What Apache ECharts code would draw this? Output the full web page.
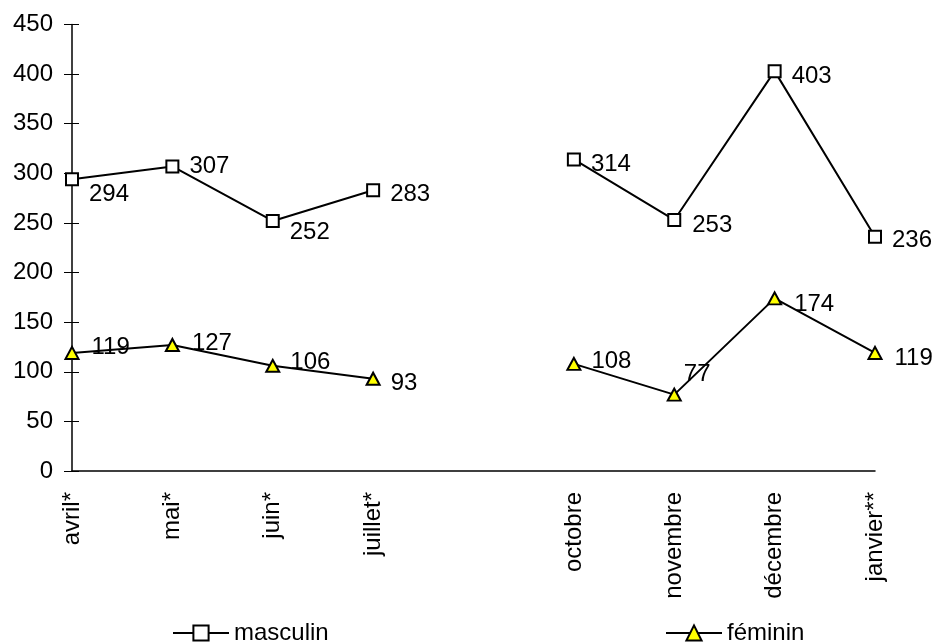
<!DOCTYPE html>
<html>
<head>
<meta charset="utf-8">
<script src="https://cdn.jsdelivr.net/npm/echarts@6/dist/echarts.min.js"></script>
<style>
  html, body { margin: 0; padding: 0; background: #ffffff; }
  #chart { width: 935px; height: 644px; }
</style>
</head>
<body>
<div id="chart"></div>
<script>
// ---- data ----
const categories = ['avril*', 'mai*', 'juin*', 'juillet*', '', 'octobre', 'novembre', 'décembre', 'janvier**'];
const masculin = [294, 307, 252, 283, null, 314, 253, 403, 236];
const feminin = [119, 127, 106, 93, null, 108, 77, 174, 119];
const yTicks = { min: 0, max: 450, interval: 50 };

// label nudges (layout only)
const mascLabelOffset = [[0, 15], [0, 0], [0, 11], [0, 4], null, [0, 5], [1, 5], [0, 5], [0, 4]];
const femLabelOffset = [[2, -6], [2, -2], [0, -3], [0, 5], null, [0, -2], [-8, -20], [2, 6], [2, 5]];

const FONT = 'Liberation Sans, Arial, sans-serif';
const FS = 24;

function withLabels(values, offsets) {
  return values.map((v, i) => {
    if (v === null) return null;
    return { value: v, label: { offset: offsets[i] || [0, 0] } };
  });
}

const legendCommon = {
  top: 621, padding: 0,
  itemWidth: 56, itemHeight: 19, itemGap: 0,
  textStyle: { fontFamily: FONT, fontSize: FS, color: '#000' },
  lineStyle: { width: 2, color: '#000' }
};

const chart = echarts.init(document.getElementById('chart'), null, { renderer: 'canvas' });
chart.setOption({
  animation: false,
  backgroundColor: '#ffffff',
  textStyle: { fontFamily: FONT, color: '#000' },
  grid: { left: 72, right: 60, top: 24.5, bottom: 173, containLabel: false },
  legend: [
    Object.assign({ data: ['masculin'], left: 172 }, legendCommon),
    Object.assign({ data: ['féminin'], left: 665 }, legendCommon)
  ],
  xAxis: {
    type: 'category',
    data: categories,
    boundaryGap: false,
    axisLine: { lineStyle: { color: '#000', width: 1.5 } },
    axisTick: { show: false },
    axisLabel: { rotate: 90, margin: 21, interval: 0, fontFamily: FONT, fontSize: FS, color: '#000' },
    splitLine: { show: false }
  },
  yAxis: [
    {
      type: 'value',
      min: yTicks.min, max: yTicks.max, interval: yTicks.interval,
      axisLine: { show: true, lineStyle: { color: '#000', width: 1.5 } },
      axisTick: { show: true, length: 8, inside: false, lineStyle: { color: '#000', width: 1 } },
      axisLabel: { margin: 19, fontFamily: FONT, fontSize: FS, color: '#000' },
      splitLine: { show: false }
    },
    {
      type: 'value', position: 'left', offset: 0,
      min: yTicks.min, max: yTicks.max, interval: yTicks.interval,
      axisLine: { show: false },
      axisTick: { show: true, length: 7, inside: true, lineStyle: { color: '#000', width: 1 } },
      axisLabel: { show: false },
      splitLine: { show: false }
    }
  ],
  series: [
    {
      name: 'masculin',
      type: 'line',
      data: withLabels(masculin, mascLabelOffset),
      connectNulls: false,
      symbol: 'rect',
      symbolSize: 12,
      lineStyle: { color: '#000', width: 2 },
      itemStyle: { color: '#fff', borderColor: '#000', borderWidth: 2 },
      label: { show: true, position: 'right', distance: 10, fontFamily: FONT, fontSize: FS, color: '#000' },
      emphasis: { disabled: true },
      z: 3
    },
    {
      name: 'féminin',
      type: 'line',
      data: withLabels(feminin, femLabelOffset),
      connectNulls: false,
      symbol: 'triangle',
      symbolSize: [13, 12],
      lineStyle: { color: '#000', width: 2 },
      itemStyle: { color: '#ffff00', borderColor: '#000', borderWidth: 2 },
      label: { show: true, position: 'right', distance: 10, fontFamily: FONT, fontSize: FS, color: '#000' },
      emphasis: { disabled: true },
      z: 3
    }
  ]
});
</script>
</body>
</html>
